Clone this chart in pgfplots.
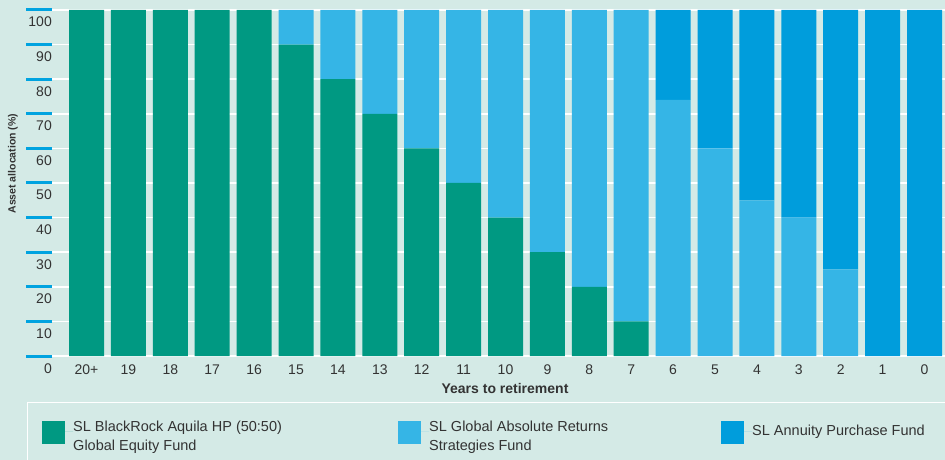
\documentclass[border=0pt]{standalone}
\usepackage{pgfplots}
\pgfplotsset{compat=1.18}
\usepackage{fontspec}
\setmainfont{Liberation Sans}
\definecolor{bg}{HTML}{D4EAE6}
\definecolor{cgreen}{HTML}{009982}
\definecolor{clight}{HTML}{35B5E6}
\definecolor{cblue}{HTML}{009DDC}
\definecolor{tickblue}{HTML}{00A3E0}
\definecolor{txt}{HTML}{333333}
\begin{document}
\begin{tikzpicture}
\useasboundingbox (-52pt,-104pt) rectangle (893pt,356pt);
\fill[bg] (-52pt,-104pt) rectangle (893pt,356pt);
\begin{axis}[
  scale only axis,
  width=893pt, height=346pt,
  xmin=-0.8234, xmax=20.489,
  ymin=0, ymax=100,
  ybar stacked, bar width=35pt,
  axis line style={draw=none},
  xtick=data,
  xticklabels={20+,19,18,17,16,15,14,13,12,11,10,9,8,7,6,5,4,3,2,1,0},
  ytick={0,10,...,100},
  tick align=outside,
  major tick length=26pt,
  xtick style={draw=none},
  ytick style={draw=tickblue, line width=3pt},
  ytick pos=left,
  ymajorgrids,
  grid style={white, line width=1.5pt},
  /pgf/number format/assume math mode=true,
  tick label style={font=\fontsize{14}{17}\selectfont, text=txt},
  xticklabel style={anchor=base, yshift=8pt},
  yticklabel style={anchor=base east, inner sep=0pt, xshift=26pt, yshift=-17pt},
  xlabel={Years to retirement},
  xlabel style={font=\bfseries\fontsize{14}{17}\selectfont, text=txt, at={(axis description cs:0.5073,-0.0925)}, anchor=center},
  ylabel={Asset allocation (\%)},
  ylabel style={font=\bfseries\fontsize{10.5}{12}\selectfont, text=txt, at={(axis description cs:-0.0437,0.556)}, anchor=center},
  legend columns=3,
  legend style={at={(axis description cs:-0.028,-0.1329)}, anchor=north west,
    draw=white, line width=1.5pt, fill=bg, inner xsep=14.5pt, inner ysep=18pt,
    font=\fontsize{14.5}{19}\selectfont, text=txt,
    nodes={inner sep=0pt, outer sep=0pt},
    /tikz/every even column/.append style={column sep=0pt},
    /tikz/every odd column/.append style={column sep=0pt}},
  legend image code/.code={\fill[#1, draw=none] (0pt,-13pt) rectangle (23pt,10pt); \path (0pt,0pt) -- (31pt,0pt);},
]
\addplot[fill=cgreen, draw=none] coordinates {(0,100) (1,100) (2,100) (3,100) (4,100) (5,90) (6,80) (7,70) (8,60) (9,50) (10,40) (11,30) (12,20) (13,10) (14,0) (15,0) (16,0) (17,0) (18,0) (19,0) (20,0)};
\addlegendentry{\parbox[c]{325pt}{SL BlackRock Aquila HP (50:50)\\Global Equity Fund}}
\addplot[fill=clight, draw=none] coordinates {(0,0) (1,0) (2,0) (3,0) (4,0) (5,10) (6,20) (7,30) (8,40) (9,50) (10,60) (11,70) (12,80) (13,90) (14,74) (15,60) (16,45) (17,40) (18,25) (19,0) (20,0)};
\addlegendentry{\parbox[c]{292pt}{SL Global Absolute Returns\\Strategies Fund}}
\addplot[fill=cblue, draw=none] coordinates {(0,0) (1,0) (2,0) (3,0) (4,0) (5,0) (6,0) (7,0) (8,0) (9,0) (10,0) (11,0) (12,0) (13,0) (14,26) (15,40) (16,55) (17,60) (18,75) (19,100) (20,100)};
\addlegendentry{\parbox[c]{300pt}{SL Annuity Purchase Fund}}
\end{axis}
\end{tikzpicture}
\end{document}
